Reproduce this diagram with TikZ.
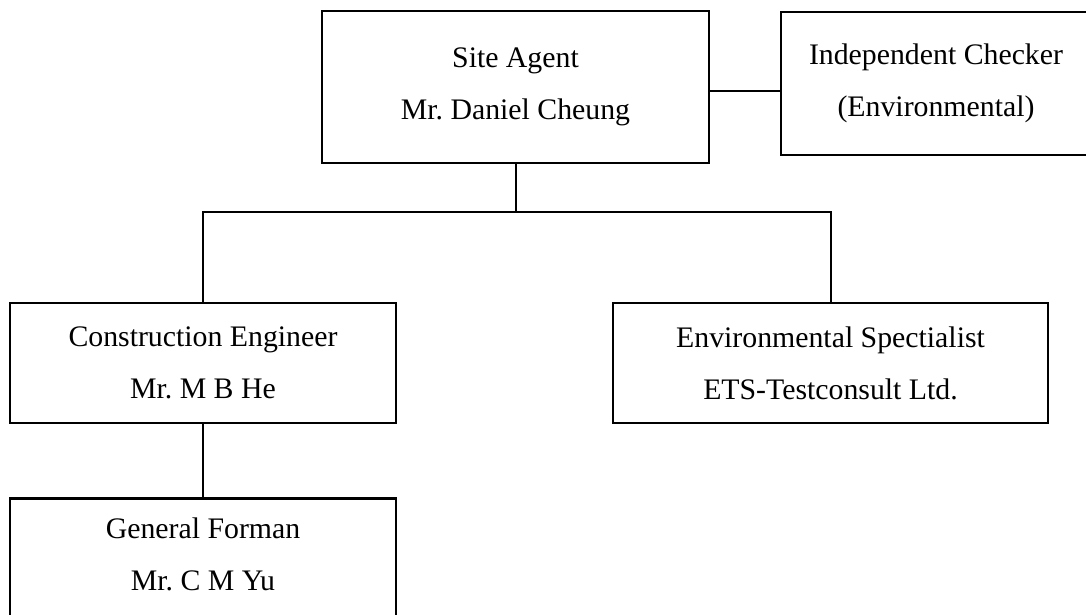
\documentclass[tikz,border=0pt]{standalone}
\usepackage{fontspec}
\setmainfont{Liberation Serif}
\usepackage{tikz}

\tikzset{
  orgbox/.style={draw, line width=2.6pt, align=center, inner sep=0pt,
    font=\fontsize{29.8}{52}\selectfont},
  link/.style={line width=2pt}
}

\begin{document}
\frenchspacing
\begin{tikzpicture}[x=1pt,y=-1pt]
          \useasboundingbox (0,0) rectangle (1086,615);
          \clip (0,0) rectangle (1086,615);
          \node[orgbox,minimum width=387pt,minimum height=152pt] (agent) at (515.5,87) {Site Agent\\Mr. Daniel Cheung};
          \node[orgbox,minimum width=310pt,minimum height=143pt] (checker) at (936,83.5) {Independent Checker\\(Environmental)};
          \node[orgbox,minimum width=386pt,minimum height=120pt] (engineer) at (203,363) {Construction Engineer\\Mr. M B He};
          \node[orgbox,minimum width=435pt,minimum height=120pt] (specialist) at (830.5,363) {Environmental Spectialist\\ETS-Testconsult Ltd.};
          \node[orgbox,minimum width=386pt,minimum height=130pt,text depth=18pt,anchor=north] (forman) at (203,497) {General Forman\\Mr. C M Yu};
          \coordinate (bus) at (515.5,212);
          \draw[link] ([yshift=-4pt]agent.east) -- ([yshift=-4pt]agent.east -| checker.west);
          \draw[link] (agent.south) -- (bus);
          \draw[link] (engineer.north) |- (bus) -| (specialist.north);
          \draw[link] (engineer.south) -- (forman.north);
        \end{tikzpicture}
\end{document}
